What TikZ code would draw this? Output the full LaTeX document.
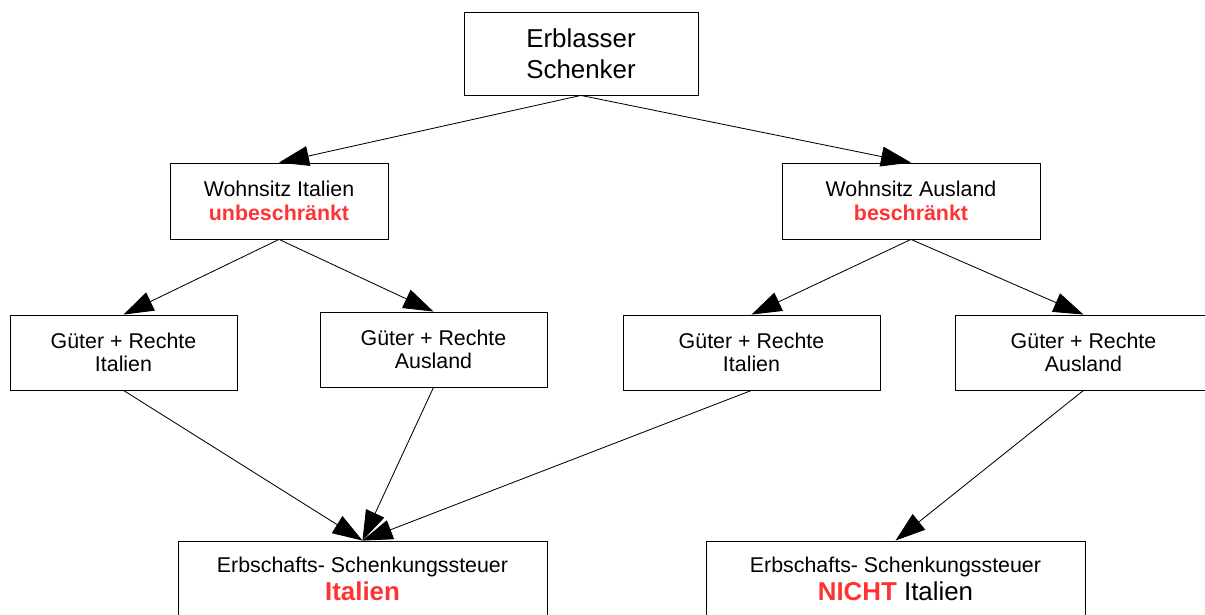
\documentclass[tikz,border=0pt]{standalone}
\usepackage{fontspec}
\setmainfont{Liberation Sans}
\usepackage{xcolor}
\usetikzlibrary{shapes,arrows.meta,positioning,calc}
\definecolor{rot}{RGB}{255,51,51}

\begin{document}
\begin{tikzpicture}[x=0.025cm, y=-0.025cm,
		box/.style={rectangle, draw, line width=0.6pt, align=center, font=\fontsize{15.2}{16.8}\selectfont},
		pfeil/.style={line width=0.6pt, -{Triangle[length=0.75cm, width=0.5cm]}}]
				\clip (0,0) rectangle (1205,615);
				\node[box, minimum width=234*0.025cm, minimum height=83*0.025cm, font=\fontsize{18.4}{22}\selectfont] (erb) at (581,53.5) {Erblasser\\Schenker};
				
				\node[box, minimum width=218*0.025cm, minimum height=76*0.025cm] (wit) at (279,201) {Wohnsitz Italien\\\textcolor{rot}{\bfseries unbeschränkt}};
				\node[box, minimum width=258*0.025cm, minimum height=76*0.025cm] (wau) at (911,201) {Wohnsitz Ausland\\\textcolor{rot}{\bfseries beschränkt}};
				\draw[pfeil] (erb.south) -- (wit.north);
				\draw[pfeil] (erb.south) -- (wau.north);
				
				\node[box, minimum width=227*0.025cm, minimum height=75*0.025cm] (git1) at (123.5,352.5) {Güter + Rechte\\Italien};
				\node[box, minimum width=227*0.025cm, minimum height=75*0.025cm] (gau1) at (433.5,349.5) {Güter + Rechte\\Ausland};
				\node[box, minimum width=257*0.025cm, minimum height=75*0.025cm] (git2) at (751.5,352.5) {Güter + Rechte\\Italien};
				\node[box, minimum width=257*0.025cm, minimum height=75*0.025cm] (gau2) at (1083.5,352.5) {Güter + Rechte\\Ausland};
				\draw[pfeil] (wit.south) -- (git1.north);
				\draw[pfeil] (wit.south) -- (gau1.north);
				\draw[pfeil] (wau.south) -- (git2.north);
				\draw[pfeil] (wau.south) -- (gau2.north);
				
				\node[box, minimum width=369*0.025cm, minimum height=76*0.025cm] (stit) at (362.5,579) {Erbschafts- Schenkungssteuer\\[3pt]{\fontsize{18.4}{18.4}\selectfont\textcolor{rot}{\bfseries Italien}}};
				\node[box, minimum width=379*0.025cm, minimum height=76*0.025cm] (stna) at (895.5,579) {Erbschafts- Schenkungssteuer\\[3pt]{\fontsize{18.4}{18.4}\selectfont\textcolor{rot}{\bfseries NICHT} Italien}};
				\draw[pfeil] (git1.south) -- (stit.north);
				\draw[pfeil] (gau1.south) -- (stit.north);
				\draw[pfeil] (git2.south) -- (stit.north);
				\draw[pfeil] (gau2.south) -- (stna.north);
			\end{tikzpicture}
\end{document}
